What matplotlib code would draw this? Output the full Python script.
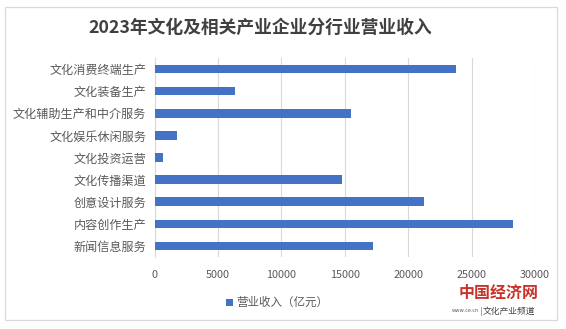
import matplotlib
matplotlib.use("Agg")
import matplotlib.pyplot as plt
from matplotlib.patches import Rectangle
from matplotlib.lines import Line2D

plt.rcParams['font.family'] = ['Noto Sans CJK SC', 'DejaVu Sans']

title = "2023年文化及相关产业企业分行业营业收入"
categories = ["文化消费终端生产", "文化装备生产", "文化辅助生产和中介服务", "文化娱乐休闲服务",
              "文化投资运营", "文化传播渠道", "创意设计服务", "内容创作生产", "新闻信息服务"]
revenue = [23760, 6340, 15500, 1740, 660, 14790, 21240, 28260, 17210]
series_name = "营业收入（亿元）"
xticks = [0, 5000, 10000, 15000, 20000, 25000, 30000]

W, H = 566, 329
fig = plt.figure(figsize=(W / 100, H / 100), dpi=100)
fig.patch.set_facecolor("white")

# outer chart frame
fig.patches.append(Rectangle((5 / W, 1 - 320 / H), 552 / W, 313 / H, transform=fig.transFigure,
                             fill=False, edgecolor="#d9d9d9", linewidth=0.9))

ax = fig.add_axes([154.7 / W, 1 - 257 / H, (535 - 154.7) / W, (257 - 58) / H])
bar_color = "#4472C4"
ypos = list(range(len(categories)))
ax.barh(ypos, revenue, height=0.39, color=bar_color, zorder=3)
ax.set_ylim(len(categories) - 0.5, -0.5)
ax.set_xlim(0, 30000)
ax.set_yticks(ypos)
ax.set_yticklabels(categories, fontsize=8.7, color="#595959")
ax.set_xticks(xticks)
ax.set_xticklabels([str(v) for v in xticks], fontsize=7.8, color="#595959")
ax.tick_params(axis="both", length=0)
ax.tick_params(axis="y", pad=6)
ax.tick_params(axis="x", pad=9)
ax.grid(axis="x", color="#d9d9d9", linewidth=0.8, zorder=0)
for s in ["top", "right", "bottom"]:
    ax.spines[s].set_visible(False)
ax.spines["left"].set_color("#d9d9d9")
ax.spines["left"].set_linewidth(0.8)

fig.text(260 / W, 1 - 28 / H, title, ha="center", va="center", fontsize=12.8,
         fontweight="bold", color="#404040")

# legend
fig.patches.append(Rectangle((226 / W, 1 - 306 / H), 7 / W, 7 / H, transform=fig.transFigure,
                             facecolor=bar_color, edgecolor="none"))
fig.text(236 / W, 1 - 302 / H, series_name, ha="left", va="center", fontsize=8.3, color="#595959")

# site mark
fig.text(499 / W, 1 - 293 / H, "中国经济网", ha="center", va="center", fontsize=11.5,
         fontweight="bold", color="#c8322b")
fig.text(479 / W, 1 - 311 / H, "www.ce.cn", ha="right", va="center", fontsize=3.8, color="#555555")
fig.lines.append(Line2D([481 / W, 481 / W], [1 - 315 / H, 1 - 307 / H], transform=fig.transFigure,
                        color="#999999", linewidth=0.6))
fig.text(483 / W, 1 - 311 / H, "文化产业频道", ha="left", va="center", fontsize=6.3, color="#444444")

fig.savefig("out.png", dpi=100, facecolor="white")
